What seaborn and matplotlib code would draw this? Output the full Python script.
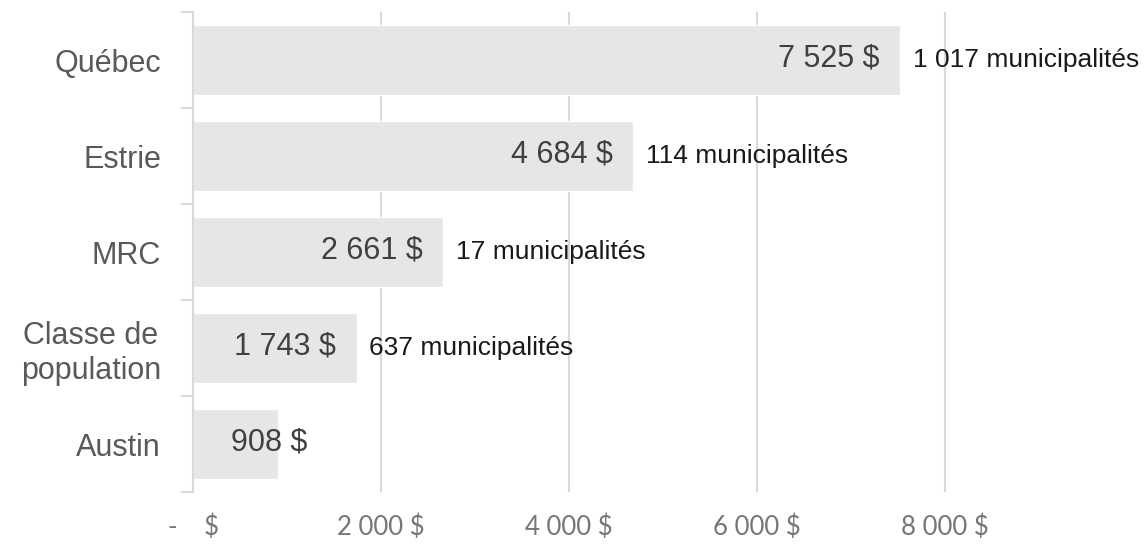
import matplotlib
matplotlib.use("Agg")
import matplotlib.pyplot as plt
import seaborn as sns
import pandas as pd
import numpy as np

categories = ["Québec", "Estrie", "MRC", "Classe de\npopulation", "Austin"]
values = [7525, 4684, 2661, 1743, 908]
value_labels = ["7 525 $", "4 684 $", "2 661 $", "1 743 $", "908 $"]
count_labels = ["1 017 municipalités", "114 municipalités", "17 municipalités", "637 municipalités", ""]
xticks = [0, 2000, 4000, 6000, 8000]
xtick_labels = ["-    $", "2 000 $", "4 000 $", "6 000 $", "8 000 $"]

sns.set_theme(style="white")
plt.rcParams["font.family"] = ["Liberation Sans", "DejaVu Sans"]

df = pd.DataFrame({"cat": categories, "val": values})

fig = plt.figure(figsize=(11.45, 5.46), dpi=100)
ax = fig.add_axes([193 / 1145, 1 - 492 / 546, (1140 - 193) / 1145, 480 / 546])

sns.barplot(data=df, y="cat", x="val", orient="h", color="#e7e6e6",
            saturation=1, width=0.73, ax=ax, zorder=2)

ax.set_xlim(0, 10074)
ax.set_ylim(4.5, -0.5)
ax.set_xlabel("")
ax.set_ylabel("")

for s in ["top", "right", "bottom"]:
    ax.spines[s].set_visible(False)
ax.spines["left"].set_color("#d9d9d9")
ax.spines["left"].set_linewidth(1.5)
ax.spines["left"].set_zorder(3)

ax.set_xticks(xticks)
ax.set_xticklabels(xtick_labels, family=["Lato", "DejaVu Sans"], fontsize=18.5, color="#767676")
ax.tick_params(axis="x", length=0, pad=16)
ax.grid(axis="x", color="#d9d9d9", linewidth=1.5, zorder=0)
ax.set_axisbelow(True)

ax.set_yticks(range(len(categories)))
ax.set_yticklabels(categories, fontsize=22, color="#595959", multialignment="center")
ax.tick_params(axis="y", which="major", length=0, pad=23)
ax.set_yticks(np.arange(-0.5, len(categories), 1.0), minor=True)
ax.tick_params(axis="y", which="minor", length=9, width=1.5, color="#d9d9d9", left=True)

for i, (v, vl, cl) in enumerate(zip(values, value_labels, count_labels)):
    dx = 21 if i == len(values) - 1 else -15
    ax.annotate(vl, (v, i), xytext=(dx, 1), textcoords="offset points",
                ha="right", va="center", fontsize=22, color="#404040", zorder=4)
    if cl:
        ax.annotate(cl, (v, i), xytext=(9, 0), textcoords="offset points",
                    ha="left", va="center", fontsize=19, color="#1a1a1a", zorder=4)

fig.savefig("out.png", dpi=100)
